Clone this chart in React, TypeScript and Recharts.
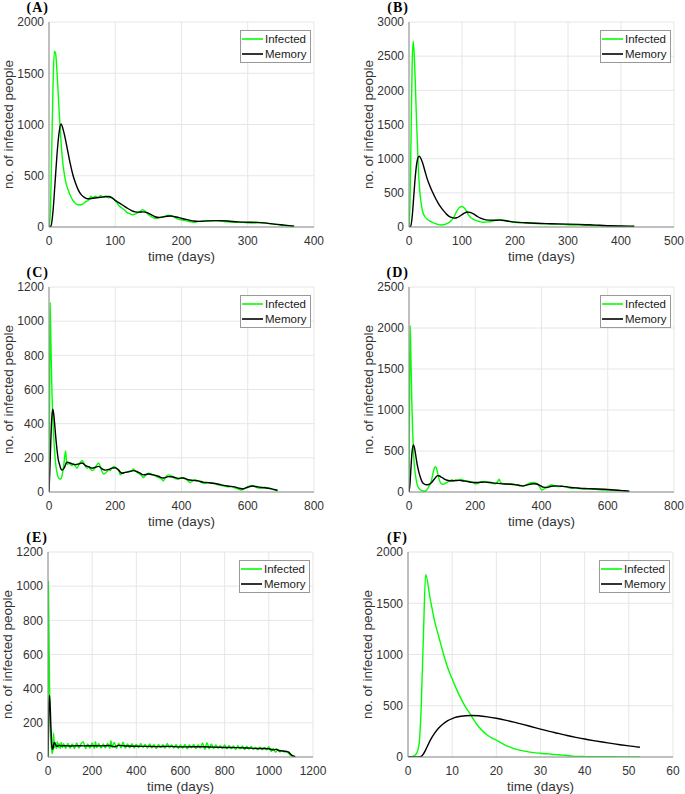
import { CartesianGrid, Label, Legend, Line, LineChart, XAxis, YAxis } from "recharts"

const FONT = '"Liberation Sans", Arial, Helvetica, sans-serif'

// [time (days), no. of people]
const aInfected = [
  [0, 0], [2, 150], [4, 700], [6, 1350], [8, 1715], [10, 1690], [12, 1520], [14, 1290], [16, 1050], [18, 850],
  [20, 680], [23, 520], [26, 420], [29, 360], [32, 310], [36, 260], [40, 230], [45, 215], [50, 220], [55, 245],
  [60, 265], [63, 300], [66, 285], [70, 300], [74, 290], [78, 305], [82, 295], [86, 300], [90, 285], [94, 290],
  [98, 270], [102, 240], [106, 205], [110, 185], [114, 165], [118, 140], [122, 130], [126, 120], [130, 125], [134, 140],
  [138, 150], [141, 170], [144, 160], [148, 135], [152, 110], [156, 95], [160, 85], [165, 90], [170, 95], [175, 105],
  [180, 115], [184, 110], [188, 100], [192, 85], [196, 75], [200, 70], [205, 65], [210, 55], [215, 50], [220, 45],
  [225, 55], [230, 58], [240, 60], [250, 62], [260, 58], [270, 50], [280, 45], [290, 48], [300, 40], [310, 38],
  [320, 42], [330, 35], [340, 28], [350, 20], [360, 12], [370, 6],
]
const aMemory = [
  [0, 0], [3, 10], [6, 150], [9, 420], [12, 700], [15, 910], [18, 1005], [21, 960], [24, 880], [28, 750],
  [32, 620], [36, 510], [40, 430], [44, 365], [48, 320], [52, 295], [56, 280], [60, 275], [66, 280], [72, 285],
  [78, 290], [84, 295], [90, 297], [95, 285], [100, 260], [106, 235], [112, 210], [118, 185], [124, 163], [130, 148],
  [136, 145], [142, 148], [148, 140], [154, 120], [160, 100], [166, 92], [172, 98], [178, 105], [184, 108], [190, 100],
  [196, 92], [202, 80], [210, 70], [218, 58], [226, 55], [240, 60], [255, 62], [270, 58], [285, 50], [300, 47],
  [315, 45], [325, 40], [340, 28], [355, 18], [370, 8],
]
const bInfected = [
  [0, 0], [2, 400], [4, 1400], [6, 2400], [8, 2720], [10, 2500], [12, 2100], [14, 1600], [16, 1200], [18, 800],
  [20, 560], [23, 340], [26, 220], [30, 150], [35, 110], [40, 85], [45, 65], [50, 50], [55, 38], [60, 30],
  [65, 32], [70, 45], [75, 65], [80, 95], [85, 150], [90, 230], [95, 285], [100, 300], [104, 280], [108, 240],
  [112, 180], [116, 140], [120, 120], [125, 100], [130, 85], [135, 75], [140, 70], [145, 72], [150, 75], [155, 80],
  [160, 90], [165, 100], [170, 110], [175, 105], [180, 95], [190, 80], [200, 70], [215, 60], [230, 55], [250, 48],
  [270, 42], [290, 38], [310, 30], [330, 26], [350, 22], [370, 15], [390, 10], [410, 8], [425, 8],
]
const bMemory = [
  [0, 0], [3, 10], [6, 150], [9, 450], [12, 750], [15, 950], [19, 1035], [22, 1010], [26, 930], [30, 820],
  [35, 690], [40, 590], [45, 500], [50, 420], [55, 350], [60, 290], [65, 240], [70, 195], [75, 160], [80, 140],
  [85, 130], [90, 135], [95, 155], [100, 180], [105, 205], [110, 220], [115, 215], [120, 200], [125, 175], [130, 150],
  [135, 130], [140, 115], [150, 100], [160, 98], [170, 100], [180, 95], [190, 82], [200, 72], [220, 62], [240, 55],
  [260, 50], [280, 45], [300, 42], [320, 38], [340, 32], [360, 25], [380, 18], [400, 15], [425, 12],
]
const cInfected = [
  [0, 0], [2, 600], [3.5, 1110], [5, 950], [7, 750], [9, 580], [12, 420], [15, 300], [18, 210], [21, 150],
  [25, 105], [30, 80], [35, 75], [40, 100], [44, 150], [47, 200], [50, 240], [52, 200], [55, 160], [60, 170],
  [65, 160], [70, 155], [75, 165], [80, 150], [85, 140], [90, 160], [95, 175], [100, 185], [105, 170], [110, 150],
  [115, 140], [120, 145], [125, 135], [130, 125], [135, 130], [140, 145], [145, 160], [150, 170], [155, 150], [160, 120],
  [165, 105], [170, 110], [175, 120], [180, 130], [185, 125], [190, 140], [195, 150], [200, 145], [205, 135], [210, 130],
  [215, 100], [220, 110], [230, 115], [240, 120], [250, 125], [255, 135], [260, 125], [270, 110], [280, 95], [285, 85],
  [290, 95], [300, 110], [310, 105], [320, 95], [330, 85], [340, 75], [345, 65], [350, 80], [360, 100], [370, 95],
  [380, 80], [390, 75], [400, 85], [410, 78], [420, 65], [425, 55], [430, 60], [440, 70], [450, 65], [460, 55],
  [470, 50], [480, 55], [490, 55], [500, 50], [510, 42], [520, 38], [530, 35], [540, 30], [550, 32], [560, 25],
  [570, 18], [580, 12], [590, 20], [600, 30], [610, 38], [620, 32], [630, 25], [640, 22], [650, 28], [660, 22],
  [670, 18], [680, 12], [690, 5],
]
const cMemory = [
  [0, 0], [3, 150], [6, 330], [9, 450], [11.5, 485], [14, 460], [17, 400], [20, 330], [24, 250], [28, 190],
  [32, 160], [36, 135], [40, 128], [44, 135], [48, 150], [52, 170], [56, 175], [62, 170], [70, 165], [80, 160],
  [90, 165], [100, 170], [110, 155], [120, 148], [130, 140], [140, 145], [150, 150], [160, 135], [170, 128], [180, 132],
  [190, 140], [200, 142], [210, 128], [220, 110], [230, 115], [240, 118], [255, 125], [265, 120], [275, 110], [285, 100],
  [300, 105], [315, 100], [330, 92], [345, 82], [360, 90], [375, 88], [390, 80], [405, 82], [420, 72], [435, 68],
  [450, 65], [465, 58], [480, 55], [500, 50], [520, 42], [540, 35], [560, 30], [575, 22], [585, 18], [600, 28],
  [615, 35], [630, 30], [650, 25], [670, 20], [690, 10],
]
const dInfected = [
  [0, 0], [1.5, 1000], [3.5, 2030], [5.5, 1700], [8.5, 1100], [11, 750], [13.5, 490], [16, 330], [19.5, 210], [23, 120],
  [27, 65], [32, 35], [37, 20], [42, 12], [47, 10], [52, 20], [57, 45], [62, 80], [67, 125], [71, 200],
  [75, 270], [79, 310], [83, 290], [87, 220], [92, 140], [97, 105], [102, 95], [107, 100], [112, 112], [118, 125],
  [125, 140], [130, 150], [135, 135], [140, 140], [150, 145], [157, 155], [165, 140], [175, 135], [185, 125], [195, 115],
  [200, 100], [210, 110], [220, 125], [230, 130], [240, 120], [250, 110], [260, 100], [268, 130], [272, 155], [276, 120],
  [285, 100], [295, 95], [305, 100], [315, 95], [325, 85], [335, 75], [345, 70], [355, 90], [365, 110], [375, 115],
  [385, 105], [395, 60], [400, 25], [405, 30], [415, 60], [425, 80], [430, 90], [440, 75], [450, 65], [460, 70],
  [470, 65], [480, 55], [490, 45], [500, 50], [510, 45], [530, 35], [550, 35], [570, 30], [590, 25], [610, 22],
  [630, 18], [650, 12], [665, 8],
]
const dMemory = [
  [0, 0], [3, 100], [6, 300], [9, 480], [13.5, 575], [17, 530], [21, 430], [25, 330], [30, 240], [35, 170],
  [40, 120], [45, 100], [50, 90], [56, 88], [62, 95], [68, 115], [74, 145], [80, 175], [86, 200], [92, 195],
  [98, 180], [104, 165], [110, 150], [118, 140], [126, 135], [134, 138], [142, 140], [150, 142], [160, 138], [170, 132],
  [180, 125], [190, 118], [200, 115], [215, 118], [230, 120], [245, 115], [260, 108], [275, 102], [290, 98], [305, 95],
  [320, 90], [335, 80], [345, 75], [360, 90], [375, 100], [385, 98], [395, 80], [405, 60], [415, 55], [430, 70],
  [445, 75], [460, 70], [475, 65], [490, 55], [510, 48], [530, 42], [550, 40], [570, 37], [590, 33], [610, 28],
  [630, 22], [650, 15], [665, 10],
]
const eInfected = [
  [0, 0], [1, 600], [2, 1030], [3, 900], [5, 650], [7, 420], [9, 270], [11, 170], [13, 100], [16, 50],
  [19, 20], [22, 40], [25, 140], [27, 100], [30, 55], [34, 75], [38, 50], [42, 90], [46, 55], [50, 80],
  [55, 50], [60, 85], [65, 55], [70, 78], [80, 50], [90, 80], [100, 52], [110, 76], [120, 50], [130, 82],
  [140, 52], [150, 78], [160, 88], [170, 50], [180, 76], [190, 52], [200, 82], [210, 50], [215, 90], [220, 55],
  [230, 78], [240, 52], [250, 76], [260, 54], [270, 80], [280, 50], [285, 95], [290, 55], [300, 85], [310, 50],
  [320, 80], [330, 54], [340, 86], [350, 52], [360, 76], [370, 54], [380, 78], [390, 52], [400, 74], [410, 54],
  [420, 80], [430, 56], [440, 74], [450, 52], [460, 76], [470, 54], [480, 72], [490, 50], [500, 74], [510, 56],
  [520, 72], [530, 52], [540, 80], [550, 54], [560, 70], [570, 52], [580, 72], [590, 50], [600, 70], [610, 52],
  [620, 74], [630, 48], [640, 70], [650, 54], [660, 74], [670, 50], [680, 70], [690, 52], [700, 82], [710, 45],
  [720, 84], [730, 48], [740, 76], [750, 50], [760, 70], [770, 52], [780, 66], [790, 50], [800, 70], [810, 48],
  [820, 66], [830, 50], [840, 64], [850, 44], [860, 66], [870, 48], [880, 64], [890, 44], [900, 62], [910, 46],
  [920, 62], [930, 44], [940, 56], [950, 42], [960, 58], [970, 42], [980, 56], [990, 42], [1000, 60], [1010, 32],
  [1020, 50], [1030, 28], [1040, 40], [1050, 30], [1060, 36], [1070, 30], [1080, 32], [1090, 20], [1100, 8], [1110, 2],
  [1120, 0],
]
const eMemory = [
  [0, 0], [2, 120], [4, 280], [6.5, 360], [9, 320], [11, 260], [13, 180], [15, 120], [17, 70], [20, 45],
  [23, 50], [26, 75], [30, 85], [35, 70], [40, 62], [50, 68], [60, 65], [80, 66], [100, 64], [130, 66],
  [160, 65], [200, 66], [240, 65], [280, 67], [300, 60], [320, 68], [360, 64], [400, 63], [450, 62], [500, 61],
  [550, 62], [600, 59], [650, 60], [700, 60], [750, 58], [800, 56], [850, 55], [900, 53], [950, 50], [980, 50],
  [1000, 48], [1020, 42], [1035, 45], [1045, 38], [1060, 36], [1080, 32], [1090, 28], [1100, 15], [1110, 6], [1120, 2],
]
const fInfected = [
  [0, 0], [1, 5], [1.5, 15], [2, 40], [2.5, 120], [3, 500], [3.5, 1200], [4, 1780], [5, 1550], [6, 1330],
  [7, 1170], [8, 1010], [9, 870], [10, 760], [11, 660], [12, 570], [13, 490], [14, 425], [15, 355], [16, 295],
  [17, 250], [18, 212], [19, 185], [20, 165], [21, 140], [22, 117], [23, 98], [24, 82], [25, 70], [26, 60],
  [27, 52], [28, 45], [29, 40], [30, 36], [31, 32], [32, 30], [33, 25], [34, 22], [35, 18], [36, 15],
  [37, 10], [38, 6], [40, 4], [43, 3], [46, 2], [49, 1], [52.5, 1],
]
const fMemory = [
  [0, 0], [2.5, 0], [3, 5], [3.5, 30], [4, 70], [5, 160], [6, 230], [7, 285], [8, 325], [9, 355],
  [10, 375], [11, 390], [12, 398], [13, 403], [14.4, 405], [16, 402], [18, 392], [20, 378], [22, 360], [24, 340],
  [26, 318], [28, 295], [30, 272], [32, 250], [34, 230], [36, 210], [38, 192], [40, 175], [42, 160], [44, 146],
  [46, 133], [48, 120], [50, 108], [52.5, 95],
]

const aXTicks = [0, 100, 200, 300, 400]
const aYTicks = [0, 500, 1000, 1500, 2000]
const bXTicks = [0, 100, 200, 300, 400, 500]
const bYTicks = [0, 500, 1000, 1500, 2000, 2500, 3000]
const cXTicks = [0, 200, 400, 600, 800]
const cYTicks = [0, 200, 400, 600, 800, 1000, 1200]
const dXTicks = [0, 200, 400, 600, 800]
const dYTicks = [0, 500, 1000, 1500, 2000, 2500]
const eXTicks = [0, 200, 400, 600, 800, 1000, 1200]
const eYTicks = [0, 200, 400, 600, 800, 1000, 1200]
const fXTicks = [0, 10, 20, 30, 40, 50, 60]
const fYTicks = [0, 500, 1000, 1500, 2000]

const toPoints = (arr: number[][]) => arr.map(([t, v]) => ({ t, v }))

const PLOT_W = 265
const PLOT_H = 205
const AXIS_W = 49
const AXIS_H = 38
const TOP = 22
const RIGHT = 27

const tickStyle = { fontSize: 12, fill: "#333", fontFamily: FONT }
const labelStyle = { fontSize: 13.5, fill: "#333", fontFamily: FONT }

const LegendBox = (props: any) => (
  <div
    style={{
      border: "1px solid #999",
      background: "#fff",
      padding: "1px 3px 1px 1px",
      fontFamily: FONT,
      fontSize: 11.5,
      lineHeight: "14.5px",
      color: "#1a1a1a",
    }}
  >
    {(props.payload || []).map((p: any) => (
      <div key={p.value} style={{ display: "flex", alignItems: "center", whiteSpace: "nowrap" }}>
        <svg width={21} height={4} style={{ marginRight: 2 }}>
          <line x1={0} y1={2} x2={21} y2={2} stroke={p.color} strokeWidth={1.6} />
        </svg>
        <span>{p.value}</span>
      </div>
    ))}
  </div>
)

function Panel({ letter, x, y, infected, memory, xTicks, yTicks }: any) {
  const xMax = xTicks[xTicks.length - 1]
  const yMax = yTicks[yTicks.length - 1]

  return (
    <div style={{ position: "absolute", left: x - AXIS_W, top: y - TOP }}>
      <LineChart
        width={AXIS_W + PLOT_W + RIGHT}
        height={TOP + PLOT_H + AXIS_H}
        margin={{ top: TOP, right: RIGHT, bottom: 0, left: 0 }}
      >
        <CartesianGrid stroke="#e6e6e6" />
        <XAxis
          dataKey="t"
          type="number"
          domain={[0, xMax]}
          ticks={xTicks}
          interval={0}
          height={AXIS_H}
          stroke="#8c8c8c"
          tickLine={false}
          tickSize={0}
          tickMargin={9}
          tick={tickStyle}
          allowDataOverflow
        >
          <Label value="time (days)" position="insideBottom" offset={4.5} style={labelStyle} />
        </XAxis>
        <YAxis
          type="number"
          domain={[0, yMax]}
          ticks={yTicks}
          interval={0}
          width={AXIS_W}
          stroke="#8c8c8c"
          tickLine={false}
          tickSize={0}
          tickMargin={5}
          tick={tickStyle}
          allowDataOverflow
        >
          <Label
            value="no. of infected people"
            angle={-90}
            position="insideLeft"
            offset={8}
            style={{ ...labelStyle, textAnchor: "middle" }}
          />
        </YAxis>
        <Legend
          layout="horizontal"
          verticalAlign="middle"
          align="center"
          wrapperStyle={{ left: AXIS_W + 191, top: TOP + 8, width: "auto", height: "auto" }}
          content={LegendBox}
        />
        <Line
          data={toPoints(infected)}
          dataKey="v"
          name="Infected"
          type="monotone"
          stroke="#00ff00"
          strokeWidth={1.4}
          dot={false}
          isAnimationActive={false}
        />
        <Line
          data={toPoints(memory)}
          dataKey="v"
          name="Memory"
          type="monotone"
          stroke="#000"
          strokeWidth={1.4}
          dot={false}
          isAnimationActive={false}
        />
      </LineChart>
      <div
        style={{
          position: "absolute",
          left: AXIS_W - 40,
          top: TOP - 22,
          width: 40,
          textAlign: "right",
          fontFamily: '"Liberation Serif", "Times New Roman", serif',
          fontWeight: "bold",
          fontSize: 14,
          letterSpacing: 1,
          lineHeight: "normal",
          color: "#000",
        }}
      >
        {letter}
      </div>
    </div>
  )
}

export default function App() {
  return (
    <div style={{ position: "absolute", left: 0, top: 0, width: 685, height: 794, background: "#fff" }}>
      <Panel letter="(A)" x={49} y={22} infected={aInfected} memory={aMemory} xTicks={aXTicks} yTicks={aYTicks} />
      <Panel letter="(B)" x={409} y={22} infected={bInfected} memory={bMemory} xTicks={bXTicks} yTicks={bYTicks} />
      <Panel letter="(C)" x={49} y={287} infected={cInfected} memory={cMemory} xTicks={cXTicks} yTicks={cYTicks} />
      <Panel letter="(D)" x={409} y={287} infected={dInfected} memory={dMemory} xTicks={dXTicks} yTicks={dYTicks} />
      <Panel letter="(E)" x={48} y={552} infected={eInfected} memory={eMemory} xTicks={eXTicks} yTicks={eYTicks} />
      <Panel letter="(F)" x={408} y={552} infected={fInfected} memory={fMemory} xTicks={fXTicks} yTicks={fYTicks} />
    </div>
  )
}
